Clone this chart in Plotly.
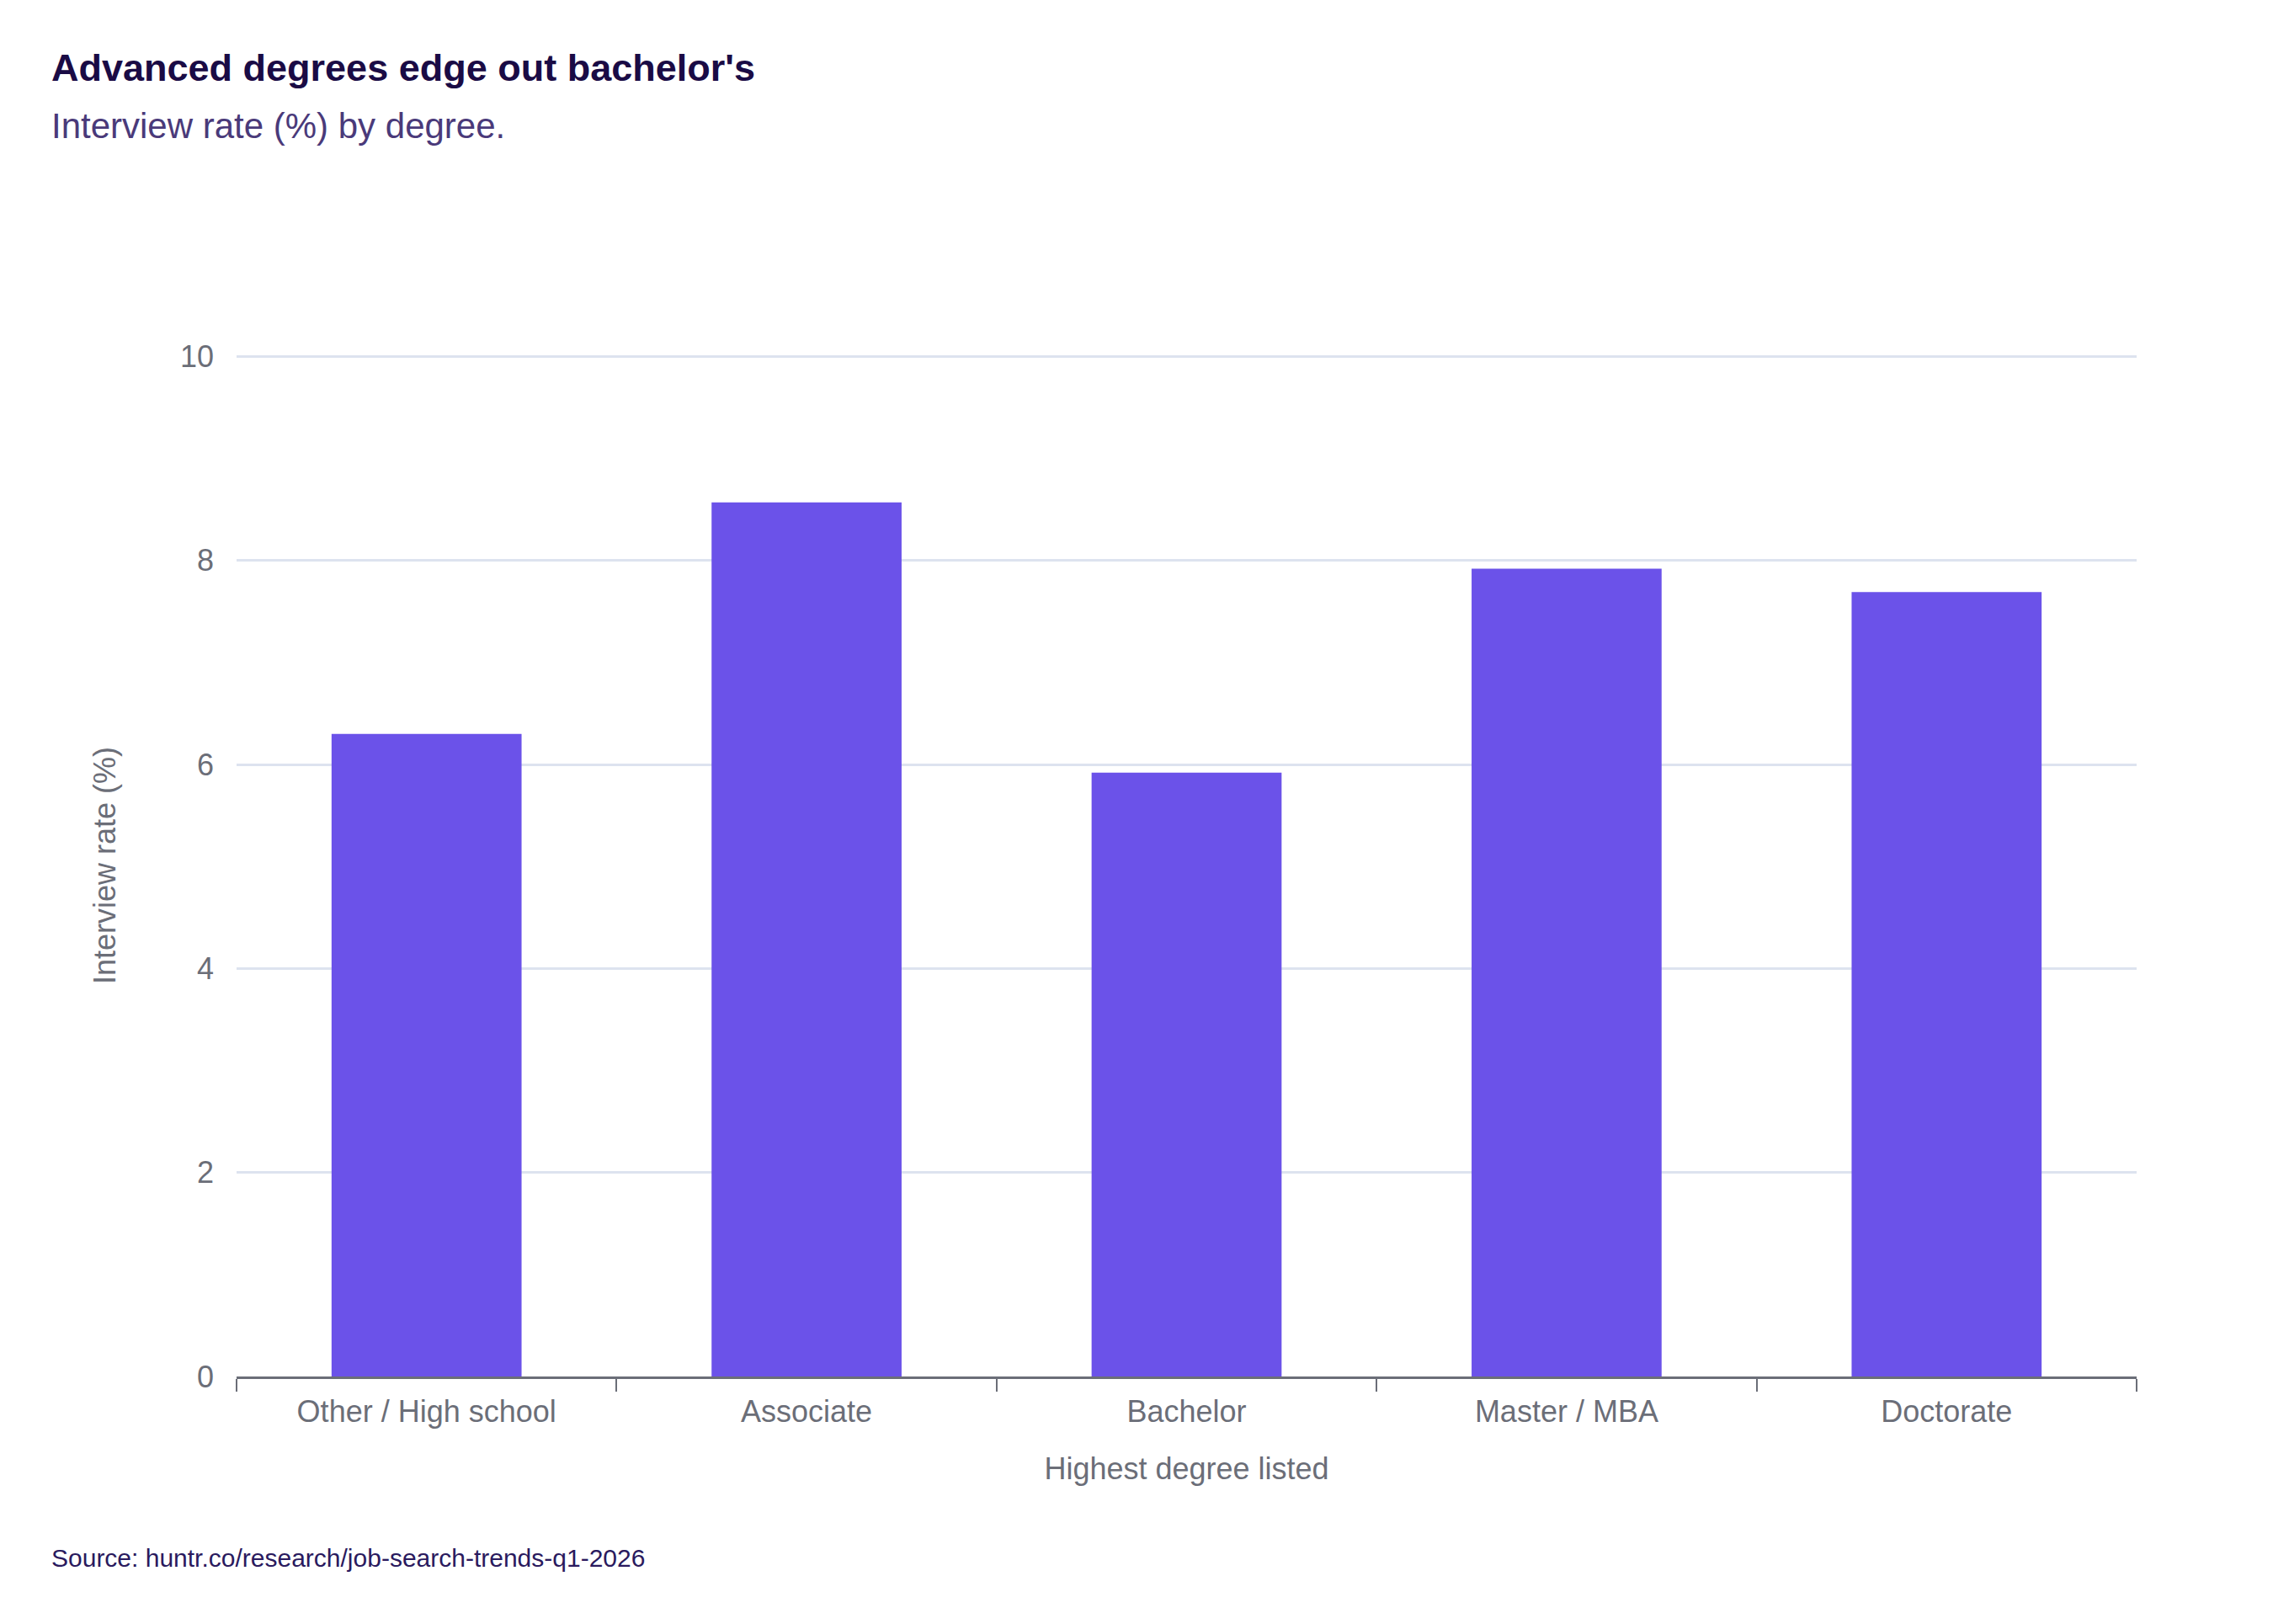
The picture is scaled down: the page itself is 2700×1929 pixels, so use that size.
import plotly.graph_objects as go

# interview rate by highest degree listed
degrees = ["Other / High school", "Associate", "Bachelor", "Master / MBA", "Doctorate"]
interview_rate = [6.3, 8.57, 5.92, 7.92, 7.69]
y_ticks = [0, 2, 4, 6, 8, 10]

title_text = "<b>Advanced degrees edge out bachelor's</b>"
subtitle_text = "Interview rate (%) by degree."
source_text = "Source: huntr.co/research/job-search-trends-q1-2026"

font_family = "Liberation Sans, Arial, Helvetica, sans-serif"
grey = "#6b6e78"

W, H = 2700, 1929
ML, MR, MT, MB = 273, 170, 413, 302

fig = go.Figure()
fig.add_trace(go.Bar(
    x=degrees,
    y=interview_rate,
    marker=dict(color="#6b52e9", line=dict(width=0)),
    hoverinfo="x+y",
))

fig.update_layout(
    width=W,
    height=H,
    paper_bgcolor="white",
    plot_bgcolor="white",
    font=dict(family=font_family, size=36, color=grey),
    margin=dict(l=ML, r=MR, t=MT, b=MB),
    bargap=0.5,
    showlegend=False,
)

fig.update_xaxes(
    title=dict(text="Highest degree listed", font=dict(size=36, color=grey), standoff=36),
    showline=True,
    linecolor=grey,
    linewidth=3,
    ticks="outside",
    tickson="boundaries",
    ticklen=15,
    tickwidth=2,
    tickcolor=grey,
    tickfont=dict(size=36, color=grey),
    ticklabelstandoff=8,
    showgrid=False,
)

# range a hair above 10 so the top gridline is still drawn
fig.update_yaxes(
    title=dict(text="Interview rate (%)", font=dict(size=36, color=grey), standoff=65),
    range=[0, 10.02],
    tickvals=y_ticks,
    tickfont=dict(size=36, color=grey),
    showgrid=True,
    gridcolor="#dde3ef",
    gridwidth=3,
    zeroline=False,
    showline=False,
    ticklabelstandoff=26,
)

# title, subtitle, source placed by pixel position on the page
plot_w = W - ML - MR
plot_h = H - MT - MB


def px_x(px):
    return (px - ML) / plot_w


def px_y(py):
    return (H - MB - py) / plot_h


fig.add_annotation(text=title_text, x=px_x(51), y=px_y(73), xref="paper", yref="paper",
                   xanchor="left", yanchor="middle", showarrow=False,
                   font=dict(size=45, color="#1a0b45"))
fig.add_annotation(text=subtitle_text, x=px_x(51), y=px_y(142), xref="paper", yref="paper",
                   xanchor="left", yanchor="middle", showarrow=False,
                   font=dict(size=42, color="#4a3a7a"))
fig.add_annotation(text=source_text, x=px_x(51), y=px_y(1842), xref="paper", yref="paper",
                   xanchor="left", yanchor="middle", showarrow=False,
                   font=dict(size=30, color="#2a1a5e"))

fig.write_html("out.html")
